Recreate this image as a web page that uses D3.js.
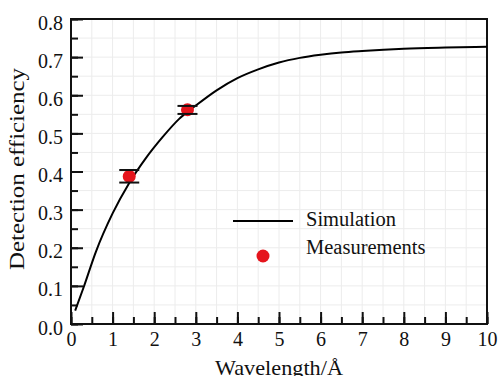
<!DOCTYPE html>
<html>
<head>
<meta charset="utf-8">
<script src="https://cdn.jsdelivr.net/npm/d3@7"></script>
<style>
  body { margin: 0; background: #fff; }
  svg { display: block; }
  svg text { font-family: "Liberation Serif", "Times New Roman", "Nimbus Roman", "DejaVu Serif", serif !important; fill: #111; }
</style>
</head>
<body>
<svg width="498" height="376"></svg>
<script>
// simulated curve
const simX = [0.1, 0.3, 0.6, 1.0, 1.4, 1.8, 2.2, 2.6, 3.0, 3.5, 4.0, 4.5, 5.0, 5.5, 6.0, 6.5, 7.0, 8.0, 9.0, 10.0];
const simY = [0.035, 0.095, 0.19, 0.29, 0.37, 0.435, 0.49, 0.538, 0.573, 0.613, 0.645, 0.668, 0.686, 0.698, 0.706, 0.712, 0.716, 0.722, 0.725, 0.727];

// measurements with error bars
const measX = [1.4, 2.8];
const measY = [0.387, 0.562];
const measLo = [0.371, 0.551];
const measHi = [0.404, 0.572];

const xTicks = [0, 1, 2, 3, 4, 5, 6, 7, 8, 9, 10];
const yTicks = [0, 0.1, 0.2, 0.3, 0.4, 0.5, 0.6, 0.7, 0.8];

const margin = { left: 71, top: 19, right: 11, bottom: 52 };
const width = 498 - margin.left - margin.right;
const height = 376 - margin.top - margin.bottom;
const red = '#e5141c';

const svg = d3.select('svg');
const g = svg.append('g')
    .attr('transform', `translate(${margin.left}, ${margin.top})`);

const x = d3.scaleLinear().domain([0, 10]).range([0, width]);
const y = d3.scaleLinear().domain([0, 0.8]).range([height, 0]);

// light grid at minor steps
const xMinor = d3.range(0, 10.01, 0.5);
const yMinor = d3.range(0, 0.801, 0.05);
g.append('g')
    .selectAll('line')
    .data(xMinor)
    .enter()
    .append('line')
    .attr('x1', d => x(d)).attr('x2', d => x(d))
    .attr('y1', 0).attr('y2', height)
    .attr('stroke', '#ececec');
g.append('g')
    .selectAll('line')
    .data(yMinor)
    .enter()
    .append('line')
    .attr('y1', d => y(d)).attr('y2', d => y(d))
    .attr('x1', 0).attr('x2', width)
    .attr('stroke', '#ececec');

// axes with inward ticks
g.append('g')
    .attr('transform', `translate(0, ${height})`)
    .call(d3.axisBottom(x).tickValues(xMinor).tickSize(-7).tickFormat(''));
g.append('g')
    .attr('transform', `translate(0, ${height})`)
    .call(d3.axisBottom(x).tickValues(xTicks).tickSize(-12).tickPadding(8).tickFormat(d3.format('d')));
g.append('g')
    .call(d3.axisLeft(y).tickValues(yMinor).tickSize(-7).tickFormat(''));
const yAxis = g.append('g')
    .call(d3.axisLeft(y).tickValues(yTicks).tickSize(-12).tickPadding(8).tickFormat(d3.format('.1f')));

g.selectAll('.domain').remove();
g.selectAll('.tick line').attr('stroke', '#111').attr('stroke-width', 2);
g.selectAll('.tick text')
    .attr('font-size', 20)
    .attr('fill', '#111');
yAxis.selectAll('.tick text').attr('dy', '0.5em');

// frame
g.append('rect')
    .attr('width', width)
    .attr('height', height)
    .attr('fill', 'none')
    .attr('stroke', '#111')
    .attr('stroke-width', 2);

// simulation curve
const line = d3.line()
    .x((d, i) => x(simX[i]))
    .y(d => y(d))
    .curve(d3.curveMonotoneX);
g.append('path')
    .attr('d', line(simY))
    .attr('fill', 'none')
    .attr('stroke', '#000')
    .attr('stroke-width', 2);

// measurements
g.selectAll('circle.meas')
    .data(measY)
    .enter()
    .append('circle')
    .attr('class', 'meas')
    .attr('cx', (d, i) => x(measX[i]))
    .attr('cy', d => y(d))
    .attr('r', 6.5)
    .attr('fill', red);

const caps = measLo.map((v, i) => [measX[i], v]).concat(measHi.map((v, i) => [measX[i], v]));
g.selectAll('line.cap')
    .data(caps)
    .enter()
    .append('line')
    .attr('class', 'cap')
    .attr('x1', d => x(d[0]) - 10).attr('x2', d => x(d[0]) + 10)
    .attr('y1', d => y(d[1])).attr('y2', d => y(d[1]))
    .attr('stroke', '#111')
    .attr('stroke-width', 2);

// legend
const legend = svg.append('g');
legend.append('line')
    .attr('x1', 233).attr('x2', 293)
    .attr('y1', 221).attr('y2', 221)
    .attr('stroke', '#000').attr('stroke-width', 2);
legend.append('text')
    .attr('x', 306).attr('y', 226)
    .attr('font-size', 20.5)
    .text('Simulation');
legend.append('circle')
    .attr('cx', 263).attr('cy', 256)
    .attr('r', 6.5)
    .attr('fill', red);
legend.append('text')
    .attr('x', 306).attr('y', 254)
    .attr('font-size', 20.5)
    .text('Measurements');

// axis titles
svg.append('text')
    .attr('x', 279).attr('y', 375)
    .attr('text-anchor', 'middle')
    .attr('textLength', 128)
    .attr('lengthAdjust', 'spacingAndGlyphs')
    .attr('font-size', 21)
    .text('Wavelength/Å');
svg.append('text')
    .attr('transform', 'translate(24, 169) rotate(-90)')
    .attr('text-anchor', 'middle')
    .attr('textLength', 202)
    .attr('lengthAdjust', 'spacingAndGlyphs')
    .attr('font-size', 20)
    .text('Detection efficiency');
</script>
</body>
</html>
